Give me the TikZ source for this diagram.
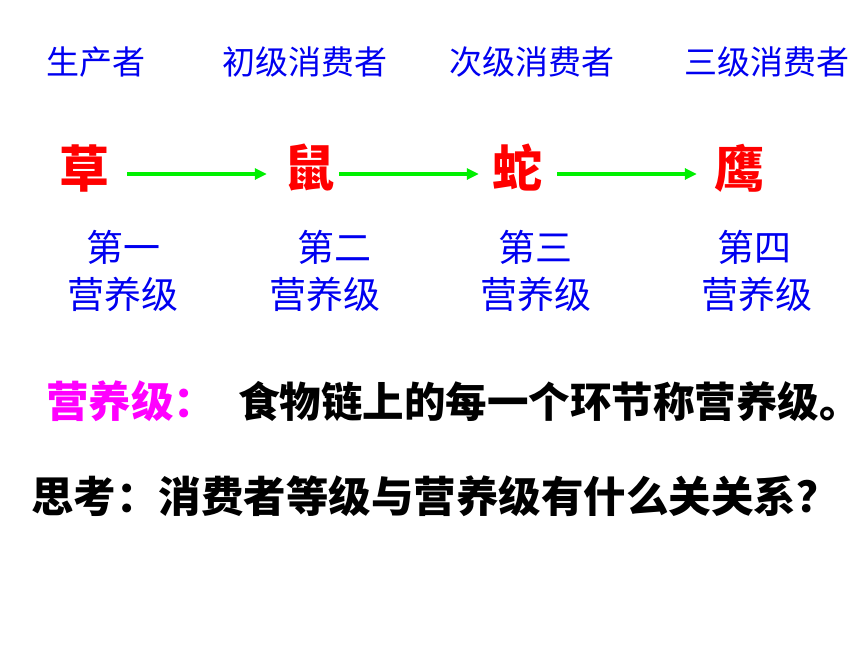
\documentclass[tikz,border=0pt]{standalone}
\usepackage{fontspec}
\setmainfont{Noto Sans CJK SC}
\newfontfamily\cjk{Noto Sans CJK SC}
\usetikzlibrary{arrows.meta}
\definecolor{tblue}{RGB}{0,0,240}
\definecolor{tred}{RGB}{255,0,0}
\definecolor{tgreen}{RGB}{0,240,0}
\definecolor{tmag}{RGB}{255,0,255}
\tikzset{
  role/.style={inner sep=0pt, text=tblue, font=\cjk\fontsize{33pt}{33pt}\selectfont},
  organism/.style={inner sep=0pt, text=tred, font=\cjk\bfseries\fontsize{50pt}{50pt}\selectfont},
  level/.style={inner sep=0pt, text=tblue, font=\cjk\fontsize{37pt}{37pt}\selectfont},
  bigline/.style={inner sep=0pt, anchor=west, font=\cjk\bfseries\fontsize{42.5pt}{42.5pt}\selectfont},
  arr/.style={draw=tgreen, line width=4pt, -{Triangle[length=12pt,width=11pt]}},
}
\begin{document}
\begin{tikzpicture}[x=1pt,y=-1pt]
\useasboundingbox[fill=white] (0,0) rectangle (860,645);
% top row
\node[role] (r1) at (96,62) {生产者};
\node[role] (r2) at (305,62) {初级消费者};
\node[role] (r3) at (532,62) {次级消费者};
\node[role] (r4) at (767,62) {三级消费者};
% organisms
\node[organism] (cao) at (84,168) {草};
\node[organism] (shu) at (309,168) {鼠};
\node[organism] (she) at (517,168) {蛇};
\node[organism] (ying) at (739,168) {鹰};
\draw[arr, shorten <=18pt, shorten >=17pt] ([yshift=-6pt]cao.east) -- ([yshift=-6pt]shu.west);
\draw[arr, shorten <=5pt, shorten >=13pt] ([yshift=-6pt]shu.east) -- ([yshift=-6pt]she.west);
\draw[arr, shorten <=15pt, shorten >=17pt] ([yshift=-6pt]she.east) -- ([yshift=-6pt]ying.west);
% levels
\node[level] (l1a) at (123,247) {第一};
\node[level] (l1b) at (123,294) {营养级};
\node[level] (l2a) at (334,247) {第二};
\node[level] (l2b) at (325,294) {营养级};
\node[level] (l3a) at (535,247) {第三};
\node[level] (l3b) at (536,294) {营养级};
\node[level] (l4a) at (754,247) {第四};
\node[level] (l4b) at (757,294) {营养级};
% bottom text
\node[bigline, text=tmag] (term) at (46,401) {营养级：};
\node[bigline, text=black, font=\cjk\bfseries\fontsize{41.5pt}{41.5pt}\selectfont] (def) at (238,401) {食物链上的每一个环节称营养级\makebox[0.45em][l]{。}};
\node[bigline, text=black] (q) at (31,496) {思考：消费者等级与营养级有什么关关系？};
\end{tikzpicture}
\end{document}
